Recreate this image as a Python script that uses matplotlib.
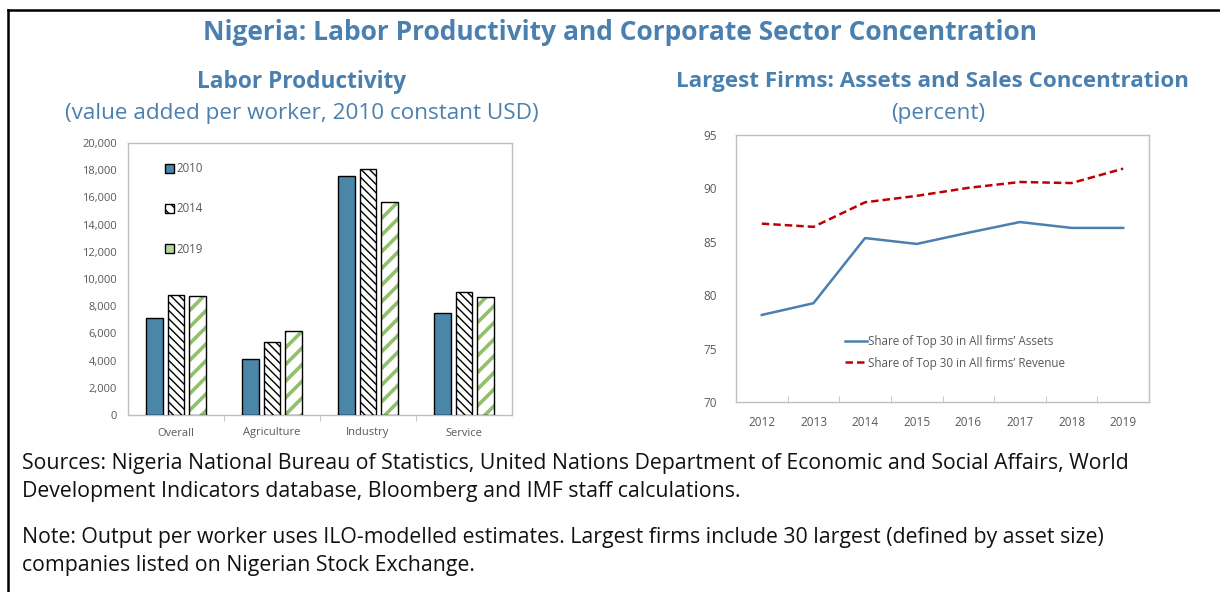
import matplotlib
matplotlib.use("Agg")
import matplotlib.pyplot as plt
import numpy as np
from matplotlib.lines import Line2D
from matplotlib.patches import Patch

# ---- data ----
sectors = ["Overall", "Agriculture", "Industry", "Service"]
bar_years = ["2010", "2014", "2019"]
prod_2010 = [7100, 4100, 17580, 7470]
prod_2014 = [8860, 5360, 18090, 9010]
prod_2019 = [8740, 6190, 15690, 8640]

years = ["2012", "2013", "2014", "2015", "2016", "2017", "2018", "2019"]
assets_share = [78.15, 79.25, 85.35, 84.8, 85.85, 86.85, 86.3, 86.3]
revenue_share = [86.7, 86.4, 88.7, 89.3, 90.05, 90.6, 90.5, 91.85]

# ---- style ----
W, H = 1220, 592
plt.rcParams['font.family'] = ['Open Sans', 'DejaVu Sans']
TITLE_C = "#4A80B0"
TICK_C = "#595959"
SPINE_C = "#BFBFBF"
BLUE_BAR = "#4A86A8"
GREEN = "#8FC06A"

fig = plt.figure(figsize=(W / 100, H / 100), dpi=100)

def px_axes(l, t, r, b):
    return fig.add_axes([l / W, 1 - b / H, (r - l) / W, (b - t) / H])

# outer frame (left and top visible)
fig.add_artist(Line2D([8 / W, 8 / W], [0, 1 - 10 / H], transform=fig.transFigure, color="black", lw=1.8))
fig.add_artist(Line2D([8 / W, 1.0], [1 - 10 / H, 1 - 10 / H], transform=fig.transFigure, color="black", lw=1.8))

# titles
fig.text(620 / W, 1 - 32 / H, "Nigeria: Labor Productivity and Corporate Sector Concentration",
         ha="center", va="center", fontsize=19, fontweight="bold", color=TITLE_C)
fig.text(302 / W, 1 - 82 / H, "Labor Productivity", ha="center", va="center",
         fontsize=16.3, fontweight="bold", color=TITLE_C)
fig.text(302 / W, 1 - 113 / H, "(value added per worker, 2010 constant USD)", ha="center", va="center",
         fontsize=16.2, color=TITLE_C)
fig.text(932 / W, 1 - 82 / H, "Largest Firms: Assets and Sales Concentration", ha="center", va="center",
         fontsize=16.1, fontweight="bold", color=TITLE_C)
fig.text(938 / W, 1 - 113 / H, "(percent)", ha="center", va="center", fontsize=16.2, color=TITLE_C)

# ---- left: bars ----
ax1 = px_axes(128, 143, 512, 415)
x = np.arange(len(sectors))
bw = 0.177
off = 0.222
ax1.bar(x - off, prod_2010, bw, color=BLUE_BAR, edgecolor="black", linewidth=1.0, zorder=3)
b2 = ax1.bar(x, prod_2014, bw, color="white", edgecolor="black", hatch="\\\\\\\\", linewidth=1.0, zorder=3)
b3h = ax1.bar(x + off, prod_2019, bw, color="white", edgecolor=GREEN, hatch="//", linewidth=0, zorder=3)
for p in b3h:
    try:
        p.set_hatch_linewidth(2.6)
    except AttributeError:
        pass
for p in b2:
    try:
        p.set_hatch_linewidth(1.0)
    except AttributeError:
        pass
ax1.bar(x + off, prod_2019, bw, color="none", edgecolor="black", linewidth=1.0, zorder=4)

ax1.set_xlim(-0.5, 3.5)
ax1.set_ylim(0, 20000)
ax1.set_yticks(np.arange(0, 20001, 2000))
ax1.set_yticklabels([f"{v:,}" for v in range(0, 20001, 2000)])
ax1.set_xticks(x)
ax1.set_xticklabels(sectors)
ax1.set_xticks([0.5, 1.5, 2.5], minor=True)
ax1.tick_params(axis="x", which="major", length=0, pad=9)
ax1.tick_params(axis="x", which="minor", length=4, direction="out", color=SPINE_C)
ax1.tick_params(axis="y", length=0, pad=8)
ax1.tick_params(labelsize=8, labelcolor=TICK_C)
for s in ax1.spines.values():
    s.set_color(SPINE_C)
    s.set_linewidth(1.0)

h1 = Patch(facecolor=BLUE_BAR, edgecolor="black", linewidth=1.0)
h2 = Patch(facecolor="white", edgecolor="black", hatch="\\\\\\", linewidth=1.0)
h3 = Patch(facecolor="#B5D89A", edgecolor="black", linewidth=1.0)
ax1.legend([h1, h2, h3], bar_years, loc="upper left", bbox_to_anchor=(0.07, 0.967),
           frameon=False, fontsize=8.3, handlelength=0.75, handleheight=0.75,
           handletextpad=0.25, labelspacing=2.35, labelcolor=TICK_C)

# ---- right: lines ----
ax2 = px_axes(736, 135, 1149, 402)
xi = np.arange(len(years))
ax2.plot(xi, assets_share, color="#4A7FB0", lw=1.8, label="Share of Top 30 in All firms\u2019 Assets")
ax2.plot(xi, revenue_share, color="#C00000", lw=1.8, ls=(0, (3, 1.6)),
         label="Share of Top 30 in All firms\u2019 Revenue")
ax2.set_xlim(-0.5, len(years) - 0.5)
ax2.set_ylim(70, 95)
ax2.set_yticks(np.arange(70, 96, 5))
ax2.set_xticks(xi)
ax2.set_xticklabels(years)
ax2.set_xticks(np.arange(0.5, len(years) - 1, 1), minor=True)
ax2.tick_params(axis="x", which="major", length=0, pad=10)
ax2.tick_params(axis="x", which="minor", length=4, direction="in", color=SPINE_C)
ax2.tick_params(axis="y", length=0, pad=14)
ax2.tick_params(labelsize=8.5, labelcolor=TICK_C)
for s in ax2.spines.values():
    s.set_color(SPINE_C)
    s.set_linewidth(1.0)
ax2.legend(loc="upper left", bbox_to_anchor=(0.243, 0.28), frameon=False, fontsize=8.4,
           handlelength=1.9, handletextpad=0.1, labelspacing=0.7, labelcolor=TICK_C,
           borderpad=0.2)

# ---- notes ----
TXT_C = "#111111"
NFS = 15.3
fig.text(22 / W, 1 - 463 / H,
         "Sources: Nigeria National Bureau of Statistics, United Nations Department of Economic and Social Affairs, World",
         ha="left", va="center", fontsize=NFS, color=TXT_C)
fig.text(22 / W, 1 - 492 / H,
         "Development Indicators database, Bloomberg and IMF staff calculations.",
         ha="left", va="center", fontsize=NFS, color=TXT_C)
fig.text(22 / W, 1 - 537 / H,
         "Note: Output per worker uses ILO-modelled estimates. Largest firms include 30 largest (defined by asset size)",
         ha="left", va="center", fontsize=NFS, color=TXT_C)
fig.text(22 / W, 1 - 566 / H,
         "companies listed on Nigerian Stock Exchange.",
         ha="left", va="center", fontsize=NFS, color=TXT_C)

fig.savefig("out.png", dpi=100)
